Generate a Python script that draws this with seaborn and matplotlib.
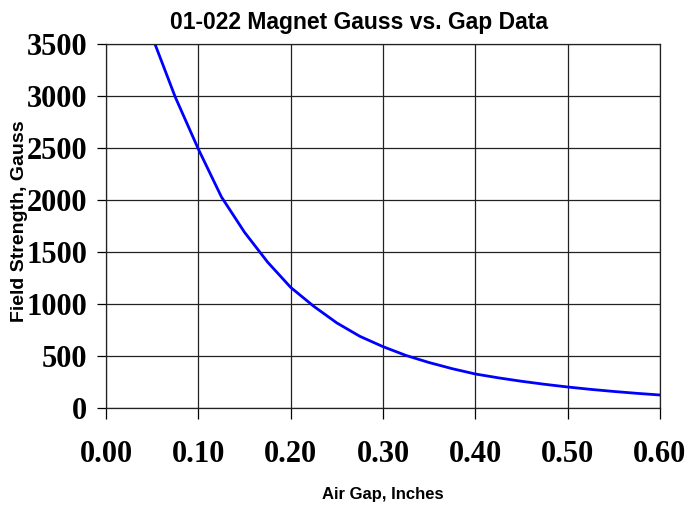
import matplotlib
matplotlib.use('Agg')
import matplotlib.pyplot as plt
import pandas as pd
import seaborn as sns

# Dados (a cada 0.025 pol.)
air_gap = [0.05, 0.075, 0.10, 0.125, 0.15, 0.175, 0.20, 0.225, 0.25, 0.275, 0.30,
           0.325, 0.35, 0.375, 0.40, 0.425, 0.45, 0.475, 0.50, 0.525, 0.55, 0.575, 0.60]
gauss = [3570, 2990, 2490, 2030, 1690, 1403, 1160, 978, 818, 689, 590,
         505, 437, 378, 327, 290, 257, 228, 202, 179, 159, 141, 125]

x_ticks = [0.0, 0.1, 0.2, 0.3, 0.4, 0.5, 0.6]
x_tick_labels = ['0.00', '0.10', '0.20', '0.30', '0.40', '0.50', '0.60']
y_ticks = [0, 500, 1000, 1500, 2000, 2500, 3000, 3500]

df = pd.DataFrame({'gap': air_gap, 'gauss': gauss})

sns.set_theme(style='white')
plt.rcParams['font.family'] = ['Liberation Sans', 'DejaVu Sans']

fig = plt.figure(figsize=(6.88, 5.05), dpi=100)
ax = fig.add_axes([106 / 688, 97 / 505, 554 / 688, 364 / 505])

sns.lineplot(data=df, x='gap', y='gauss', ax=ax, color='#0000FF', linewidth=2.0)

ax.set_xlim(0, 0.6)
ax.set_ylim(0, 3500)
ax.set_xticks(x_ticks)
ax.set_xticklabels(x_tick_labels)
ax.set_yticks(y_ticks)
ax.set_xlabel('')
ax.set_ylabel('')

# Grade
ax.grid(True, color='#222222', linewidth=0.9)
ax.set_axisbelow(True)
for s in ax.spines.values():
    s.set_color('#222222')
    s.set_linewidth(0.9)

# Rótulos dos ticks em serifa negrito
ax.tick_params(axis='x', direction='out', length=8, width=0.9, color='black', pad=15)
ax.tick_params(axis='y', direction='out', length=6.5, width=0.9, color='black', pad=7)
ax.tick_params(bottom=True, left=True)
for lab in ax.get_xticklabels() + ax.get_yticklabels():
    lab.set_fontfamily(['Liberation Serif', 'DejaVu Serif'])
    lab.set_fontweight('bold')
    lab.set_fontsize(22)
    lab.set_color('black')

# Títulos
fig.text(359.5 / 688, 1 - 29 / 505, '01-022 Magnet Gauss vs. Gap Data',
         ha='center', va='baseline', fontsize=16.5, fontweight='bold', color='black')
fig.text(383 / 688, 1 - 499 / 505, 'Air Gap, Inches',
         ha='center', va='baseline', fontsize=12, fontweight='bold', color='black')
fig.text(20 / 688, 1 - 221 / 505, 'Field Strength, Gauss', rotation=90,
         ha='center', va='center', fontsize=14, fontweight='bold', color='black')

fig.savefig('out.png', dpi=100)
